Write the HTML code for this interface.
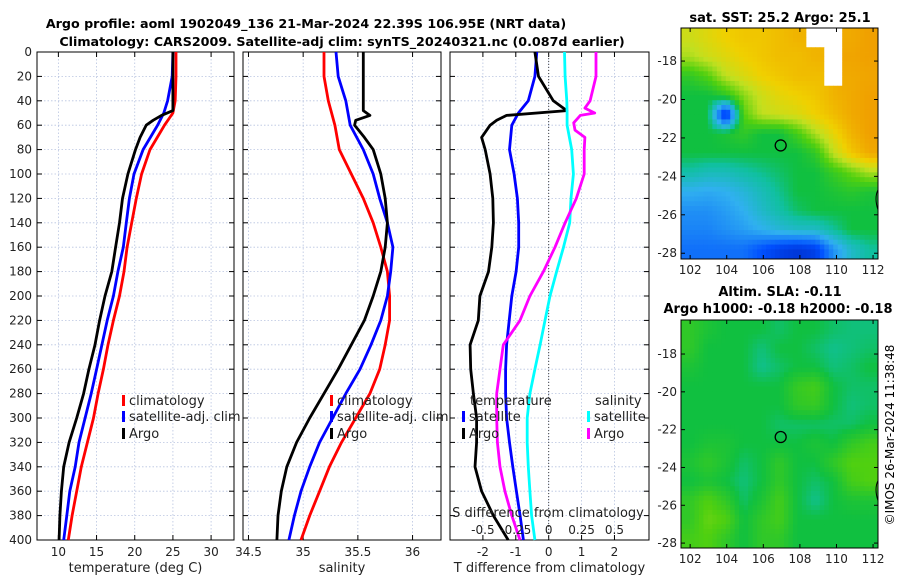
<!DOCTYPE html>
<html><head><meta charset="utf-8"><style>
html,body{margin:0;padding:0;background:#fff;}
svg{display:block;font-family:"DejaVu Sans","Liberation Sans",sans-serif;}
</style></head><body>
<svg id="chart" width="900" height="580" viewBox="0 0 900 580" xmlns="http://www.w3.org/2000/svg">
<text x="306" y="28" font-size="12.7" font-weight="bold" text-anchor="middle">Argo profile: aoml 1902049_136 21-Mar-2024 22.39S 106.95E (NRT data)</text>
<text x="342" y="46" font-size="12.7" font-weight="bold" text-anchor="middle">Climatology: CARS2009. Satellite-adj clim: synTS_20240321.nc (0.087d earlier)</text>
<text x="780" y="22" font-size="13" font-weight="bold" text-anchor="middle">sat. SST: 25.2 Argo: 25.1</text>
<text x="780" y="296" font-size="13" font-weight="bold" text-anchor="middle">Altim. SLA: -0.11</text>
<text x="778" y="313" font-size="13" font-weight="bold" text-anchor="middle">Argo h1000: -0.18 h2000: -0.18</text>
<text transform="translate(894,435) rotate(-90)" font-size="12" text-anchor="middle">©IMOS 26-Mar-2024 11:38:48</text>
<g id="layer"></g>
</svg>
<script>
// ---- data ----
const depths = [0,20,40,50,60,80,100,120,140,160,180,200,220,240,260,280,300,320,340,360,380,400];
const tempClim = [25.4,25.4,25.3,25.0,23.9,22.0,20.9,20.2,19.6,19.0,18.6,18.0,17.2,16.5,15.9,15.2,14.6,13.8,13.0,12.4,11.8,11.3];
const tempSat  = [25.0,24.9,24.3,23.8,23.0,21.1,19.9,19.3,18.9,18.5,17.8,17.2,16.4,15.7,15.0,14.3,13.5,12.7,12.2,11.5,11.1,10.7];
const argoDepths = [0,20,40,48,52,56,60,70,80,100,120,140,160,180,200,220,240,260,280,300,320,340,360,380,400];
const tempArgo = [25.0,25.0,25.0,25.0,23.5,22.4,21.5,20.7,20.1,19.1,18.4,18.0,17.5,17.0,16.1,15.4,14.8,14.0,13.3,12.4,11.4,10.7,10.4,10.2,10.1];
const salClim = [35.19,35.19,35.23,35.26,35.29,35.33,35.44,35.55,35.64,35.71,35.77,35.79,35.79,35.75,35.70,35.61,35.48,35.35,35.24,35.15,35.06,34.98];
const salSat  = [35.30,35.32,35.39,35.41,35.43,35.55,35.64,35.70,35.77,35.82,35.80,35.77,35.71,35.62,35.52,35.39,35.27,35.15,35.06,34.98,34.92,34.87];
const salArgo = [35.55,35.55,35.55,35.55,35.61,35.48,35.47,35.56,35.64,35.71,35.75,35.77,35.75,35.71,35.64,35.56,35.44,35.32,35.19,35.06,34.94,34.85,34.80,34.77,34.76];
const dTsat  = [-0.36,-0.42,-0.62,-0.92,-1.12,-1.19,-1.05,-0.95,-0.91,-0.91,-0.99,-1.12,-1.20,-1.28,-1.31,-1.31,-1.28,-1.19,-1.09,-0.98,-0.87,-0.77];
const dTargo = [-0.42,-0.31,0.14,0.55,-1.28,-1.58,-1.78,-2.04,-1.93,-1.78,-1.70,-1.68,-1.73,-1.83,-2.09,-2.14,-2.39,-2.37,-2.29,-2.19,-2.19,-2.24,-2.04,-1.68,-1.23];
const dSsat  = [0.12,0.125,0.138,0.14,0.14,0.175,0.188,0.17,0.16,0.113,0.06,0.01,-0.028,-0.065,-0.105,-0.143,-0.163,-0.163,-0.155,-0.143,-0.13,-0.105];
const magDepths = [0,20,40,46,50,52,58,64,70,80,100,120,140,160,180,200,220,240,260,280,300,320,340,360,380,400];
const dSargo = [0.36,0.36,0.315,0.275,0.35,0.24,0.19,0.2,0.275,0.27,0.27,0.21,0.125,0.048,-0.04,-0.143,-0.218,-0.345,-0.37,-0.395,-0.395,-0.39,-0.37,-0.333,-0.28,-0.218];
const depthTicks = [0,20,40,60,80,100,120,140,160,180,200,220,240,260,280,300,320,340,360,380,400];
const tempTicks = [10,15,20,25,30];
const salTicks = [34.5,35,35.5,36];
const dTTicks = [-2,-1,0,1,2];
const dSTicks = [-0.5,-0.25,0,0.25,0.5];
const dSTickLabels = ["-0.5","-0.25","0","0.25","0.5"];
const latTicks = [-18,-20,-22,-24,-26,-28];
const lonTicks = [102,104,106,108,110,112];
const sstGrid = [
[.72,.75,.78,.80,.80,.82,.84,-1,-1,.86,.88],
[.68,.72,.75,.78,.80,.82,.82,.84,-1,.87,.88],
[.55,.60,.70,.74,.78,.80,.82,.82,-1,.86,.87],
[.50,.50,.55,.65,.72,.76,.78,.80,.84,.86,.88],
[.50,.50,.10,.60,.70,.72,.74,.78,.82,.86,.88],
[.50,.50,.52,.55,.50,.50,.58,.68,.76,.84,.88],
[.50,.50,.50,.50,.50,.50,.50,.55,.70,.80,.86],
[.44,.42,.42,.44,.46,.48,.50,.50,.56,.62,.68],
[.35,.34,.35,.38,.42,.46,.50,.50,.52,.54,.52],
[.30,.30,.32,.35,.40,.44,.48,.50,.50,.50,.50],
[.28,.28,.30,.32,.35,.38,.40,.40,.45,.50,.50],
[.25,.25,.25,.25,.20,.15,.12,.15,.30,.40,.45]];
const slaGrid = [
[.55,.52,.50,.50,.50,.48,.50,.50,.48,.47,.47],
[.55,.50,.50,.50,.47,.50,.50,.48,.46,.47,.48],
[.52,.50,.50,.50,.46,.48,.50,.50,.47,.48,.50],
[.50,.50,.50,.50,.50,.50,.56,.58,.50,.48,.48],
[.50,.50,.50,.50,.50,.50,.55,.56,.50,.47,.48],
[.50,.50,.50,.50,.50,.48,.48,.48,.48,.48,.50],
[.50,.52,.52,.50,.50,.50,.50,.52,.50,.55,.58],
[.52,.55,.52,.48,.50,.55,.50,.50,.55,.60,.60],
[.50,.52,.50,.47,.50,.55,.50,.48,.50,.58,.60],
[.55,.60,.55,.48,.52,.58,.50,.46,.50,.52,.52],
[.55,.62,.60,.50,.55,.58,.50,.50,.50,.50,.50],
[.58,.60,.55,.50,.55,.55,.50,.50,.50,.50,.50]];
const argoLon = 106.95, argoLat = -22.39;

// ---- helpers ----
const NS="http://www.w3.org/2000/svg";
const layer=document.getElementById('layer');
function mk(tag,attrs,parent){const e=document.createElementNS(NS,tag);for(const k in attrs)e.setAttribute(k,attrs[k]);(parent||layer).appendChild(e);return e;}
const Y0=52,Y1=540;
const yD=d=>Y0+(d/400)*(Y1-Y0);
function lin(d0,d1,r0,r1){return v=>r0+(v-d0)/(d1-d0)*(r1-r0);}

function profilePanel(name,x0,x1,dom,ticks,labels,xlabel){
  const sx=lin(dom[0],dom[1],x0,x1);
  const g=mk('g',{});
  
  
  depthTicks.forEach(d=>{
    const l=mk('line',{x1:x0,x2:x1,y1:yD(d),y2:yD(d),stroke:'#b8c4e0','stroke-width':0.8,'stroke-dasharray':'1.5,2'},g);
    
    
    mk('line',{x1:x0,x2:x0+5,y1:yD(d),y2:yD(d),stroke:'#000','stroke-width':1},g);
    mk('line',{x1:x1-5,x2:x1,y1:yD(d),y2:yD(d),stroke:'#000','stroke-width':1},g);
  });
  ticks.forEach((t,i)=>{
    const l=mk('line',{x1:sx(t),x2:sx(t),y1:Y0,y2:Y1,stroke:'#b8c4e0','stroke-width':0.8,'stroke-dasharray':'1.5,2'},g);
    
    
    mk('line',{x1:sx(t),x2:sx(t),y1:Y1,y2:Y1-5,stroke:'#000'},g);
    mk('line',{x1:sx(t),x2:sx(t),y1:Y0,y2:Y0+5,stroke:'#000'},g);
    const tx=mk('text',{x:sx(t),y:Y1+16,'font-size':12,'text-anchor':'middle',fill:'#222'},g);
    tx.textContent=labels[i];
    
    
  });
  const xl=mk('text',{x:(x0+x1)/2,y:572,'font-size':13,'text-anchor':'middle',fill:'#222'},g);
  xl.textContent=xlabel;
  
  
  const box=mk('rect',{x:x0,y:Y0,width:x1-x0,height:Y1-Y0,fill:'none',stroke:'#000','stroke-width':1},g);
  
  
  return {sx,g};
}
function series(p,vals,ds,color,name){
  const pts=vals.map((v,i)=>p.sx(v).toFixed(1)+','+yD(ds[i]).toFixed(1)).join(' ');
  const l=mk('polyline',{points:pts,fill:'none',stroke:color,'stroke-width':2.8,'stroke-linejoin':'round'},p.g);
  
  
}
function legendEntry(g,x,y,color,label,name){
  mk('rect',{x:x,y:y-10,width:3,height:11,fill:color},g);
  const t=mk('text',{x:x+7,y:y,'font-size':13,fill:'#222'},g);
  t.textContent=label;
  
  
}

depthTicks.forEach(d=>{
  const t=mk('text',{x:32,y:yD(d)+4,'font-size':12,'text-anchor':'end',fill:'#222'});
  t.textContent=d;
  
  
});

const p1=profilePanel('temperature',37,234,[7.2,33],tempTicks,tempTicks.map(String),'temperature (deg C)');
series(p1,tempClim,depths,'#ff0000','temp-climatology-line');
series(p1,tempSat,depths,'#0000ff','temp-satellite-line');
series(p1,tempArgo,argoDepths,'#000000','temp-argo-line');
legendEntry(p1.g,122,405,'#ff0000','climatology','legend-climatology');
legendEntry(p1.g,122,421,'#0000ff','satellite-adj. clim','legend-satellite');
legendEntry(p1.g,122,438,'#000000','Argo','legend-argo');

const p2=profilePanel('salinity',243,441,[34.45,36.26],salTicks,salTicks.map(String),'salinity');
series(p2,salClim,depths,'#ff0000','sal-climatology-line');
series(p2,salSat,depths,'#0000ff','sal-satellite-line');
series(p2,salArgo,argoDepths,'#000000','sal-argo-line');
legendEntry(p2.g,330,405,'#ff0000','climatology','legend-climatology-2');
legendEntry(p2.g,330,421,'#0000ff','satellite-adj. clim','legend-satellite-2');
legendEntry(p2.g,330,438,'#000000','Argo','legend-argo-2');

const p3=profilePanel('difference',450,649,[-3,3.05],dTTicks,dTTicks.map(String),'T difference from climatology');
const sxS=v=>p3.sx(v*4);
const zl=mk('line',{x1:p3.sx(0),x2:p3.sx(0),y1:Y0,y2:Y1,stroke:'#444','stroke-width':1,'stroke-dasharray':'1,2'},p3.g);


series(p3,dTsat,depths,'#0000ff','dT-satellite-line');
series(p3,dTargo,argoDepths,'#000000','dT-argo-line');
series(p3,dSsat.map(v=>v*4),depths,'#00ffff','dS-satellite-line');
series(p3,dSargo.map(v=>v*4),magDepths,'#ff00ff','dS-argo-line');
const lt=mk('text',{x:470,y:405,'font-size':13,fill:'#222'},p3.g);lt.textContent='temperature';


const ls=mk('text',{x:595,y:405,'font-size':13,fill:'#222'},p3.g);ls.textContent='salinity';


legendEntry(p3.g,462,421,'#0000ff','satellite','legend-dT-satellite');
legendEntry(p3.g,462,438,'#000000','Argo','legend-dT-argo');
legendEntry(p3.g,587,421,'#00ffff','satellite','legend-dS-satellite');
legendEntry(p3.g,587,438,'#ff00ff','Argo','legend-dS-argo');
const st=mk('text',{x:548,y:517,'font-size':13,'text-anchor':'middle',fill:'#222'},p3.g);st.textContent='S difference from climatology';


dSTicks.forEach((t,i)=>{
  const tx=mk('text',{x:sxS(t),y:534,'font-size':12,'text-anchor':'middle',fill:'#222'},p3.g);
  tx.textContent=dSTickLabels[i];
  
  
});

const cstops=[[0,[0,16,160]],[.2,[0,80,255]],[.35,[48,176,240]],[.45,[16,192,160]],[.5,[16,192,64]],[.6,[80,208,16]],[.7,[192,224,32]],[.78,[240,208,0]],[.88,[240,160,0]],[1,[224,96,0]]];
function cmap(v){
  for(let i=1;i<cstops.length;i++){if(v<=cstops[i][0]){const a=cstops[i-1],b=cstops[i],f=(v-a[0])/(b[0]-a[0]);
    return 'rgb('+a[1].map((c,k)=>Math.round(c+(b[1][k]-c)*f)).join(',')+')';}}
  return 'rgb(224,96,0)';
}
function mapPanel(name,grid,top,bot,latTop,latBot){
  const x0=681,x1=878;
  const sx=lin(101.5,112.27,x0,x1), sy=lin(latTop,latBot,top,bot);
  const g=mk('g',{});
  
  
  const nr=grid.length,nc=grid[0].length,sub=4;
  const cw=(x1-x0)/(nc*sub),ch=(bot-top)/(nr*sub);
  const gv=(r,c)=>grid[Math.max(0,Math.min(nr-1,r))][Math.max(0,Math.min(nc-1,c))];
  for(let i=0;i<nr*sub;i++)for(let j=0;j<nc*sub;j++){
    const fr=(i+0.5)/sub-0.5, fc=(j+0.5)/sub-0.5;
    const r0=Math.floor(fr),c0=Math.floor(fc),tr=fr-r0,tc=fc-c0;
    const vals=[gv(r0,c0),gv(r0,c0+1),gv(r0+1,c0),gv(r0+1,c0+1)];
    let col;
    const near=gv(Math.round(fr),Math.round(fc));
    if(near<0) col='#ffffff';
    else{
      const w=[(1-tr)*(1-tc),(1-tr)*tc,tr*(1-tc),tr*tc];let s=0,ws=0;
      vals.forEach((v,k)=>{if(v>=0){s+=v*w[k];ws+=w[k];}});
      col=cmap(s/ws);
    }
    mk('rect',{x:(x0+j*cw).toFixed(2),y:(top+i*ch).toFixed(2),width:(cw+0.4).toFixed(2),height:(ch+0.4).toFixed(2),fill:col},g);
  }
  latTicks.forEach(t=>{
    mk('line',{x1:x0,x2:x0+4,y1:sy(t),y2:sy(t),stroke:'#000'},g);
    mk('line',{x1:x1-4,x2:x1,y1:sy(t),y2:sy(t),stroke:'#000'},g);
    const tx=mk('text',{x:x0-4,y:sy(t)+4,'font-size':12,'text-anchor':'end',fill:'#222'},g);
    tx.textContent=t;
    
    
  });
  lonTicks.forEach(t=>{
    mk('line',{x1:sx(t),x2:sx(t),y1:bot,y2:bot-4,stroke:'#000'},g);
    mk('line',{x1:sx(t),x2:sx(t),y1:top,y2:top+4,stroke:'#000'},g);
    const tx=mk('text',{x:sx(t),y:bot+15,'font-size':12,'text-anchor':'middle',fill:'#222'},g);
    tx.textContent=t;
    
    
  });
  const c=mk('circle',{cx:sx(argoLon),cy:sy(argoLat),r:5.5,fill:'none',stroke:'#000','stroke-width':1.3},g);
  
  
  mk('path',{d:`M${x1} ${sy(-24.7)} q-4 8 0 20`,fill:'none',stroke:'#000','stroke-width':1},g);
  mk('rect',{x:x0,y:top,width:x1-x0,height:bot-top,fill:'none',stroke:'#000'},g);
}
mapPanel('sst-map',sstGrid,28,259,-16.28,-28.3);
mapPanel('sla-map',slaGrid,320,548,-16.2,-28.26);
</script>
</body></html>
